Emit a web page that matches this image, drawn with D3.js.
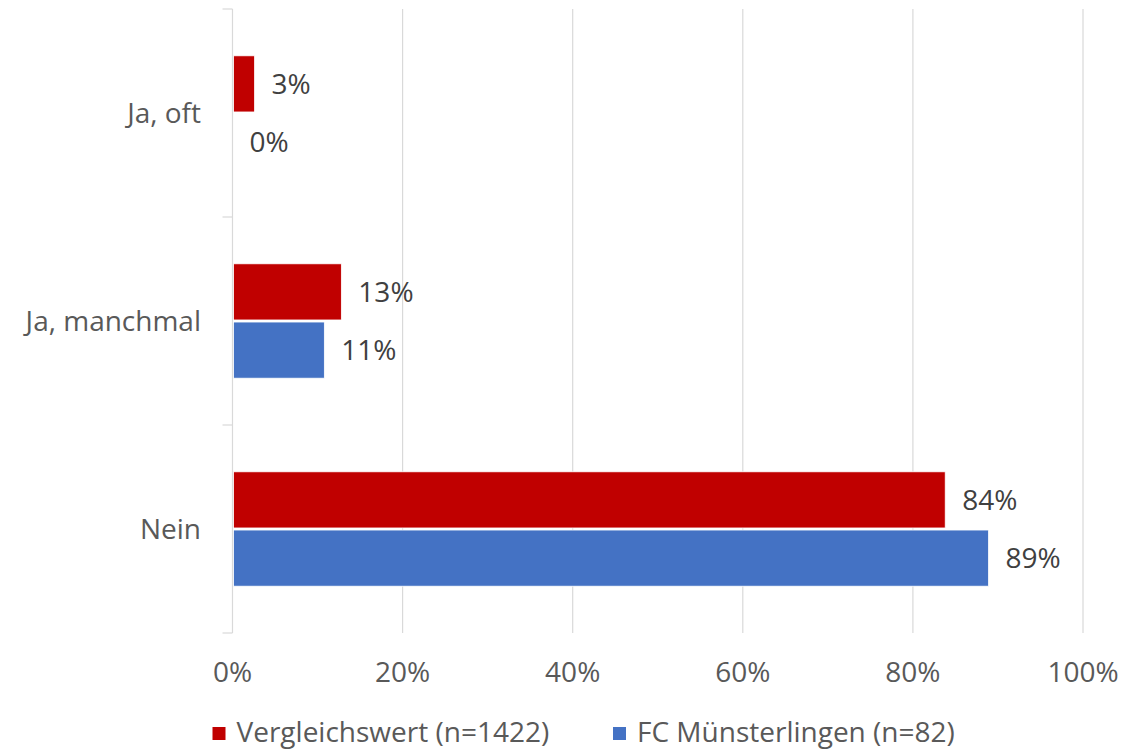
<!DOCTYPE html>
<html>
<head>
<meta charset="utf-8">
<script src="https://cdn.jsdelivr.net/npm/d3@7"></script>
<style>
  body { margin: 0; background: #fff; }
  svg text { font-family: "Open Sans", Lato, sans-serif; }
</style>
</head>
<body>
<svg id="chart"></svg>
<script>
// data
var categories = ["Ja, oft", "Ja, manchmal", "Nein"];
var seriesNames = ["Vergleichswert (n=1422)", "FC Münsterlingen (n=82)"];
var vergleich = [2.6, 12.8, 83.8];
var muensterlingen = [0, 10.8, 88.9];
var valueLabels = [["3%", "13%", "84%"], ["0%", "11%", "89%"]];
var xTicks = [0, 20, 40, 60, 80, 100];
var colors = ["#C00000", "#4472C4"];

var width = 1145;
var height = 751;
var fontSize = 28;

var svg = d3.select("#chart")
    .attr("width", width)
    .attr("height", height);

var plotLeft = 232.5, plotRight = 1083, plotTop = 9, plotBottom = 633;

var xScale = d3.scaleLinear()
    .domain([0, 100])
    .range([plotLeft, plotRight]);

var yScale = d3.scaleBand()
    .domain(categories)
    .range([plotTop, plotBottom])
    .paddingInner(0.45)
    .paddingOuter(0.225);

var inner = d3.scaleBand()
    .domain([0, 1])
    .range([0, yScale.bandwidth()])
    .paddingInner(0.035);

// gridlines
svg.append("g")
    .selectAll("line")
    .data(xTicks.slice(1))
    .enter()
    .append("line")
    .attr("x1", function(d){ return xScale(d); })
    .attr("x2", function(d){ return xScale(d); })
    .attr("y1", plotTop)
    .attr("y2", plotBottom)
    .attr("stroke", "#d9d9d9")
    .attr("stroke-width", 1.2);

// category axis (left) with tick marks between categories
var yAxis = svg.append("g");
yAxis.append("line")
    .attr("x1", plotLeft).attr("x2", plotLeft)
    .attr("y1", plotTop).attr("y2", plotBottom)
    .attr("stroke", "#d9d9d9")
    .attr("stroke-width", 1.2);

var boundaries = d3.range(categories.length + 1).map(function(i){
    return plotTop + i * (plotBottom - plotTop) / categories.length;
});
yAxis.selectAll(".tk")
    .data(boundaries)
    .enter()
    .append("line")
    .attr("x1", plotLeft - 10).attr("x2", plotLeft)
    .attr("y1", function(d){ return d; })
    .attr("y2", function(d){ return d; })
    .attr("stroke", "#d9d9d9")
    .attr("stroke-width", 1.2);

yAxis.selectAll("text")
    .data(categories)
    .enter()
    .append("text")
    .attr("x", 201)
    .attr("y", function(d){ return yScale(d) + yScale.bandwidth() / 2; })
    .attr("dy", "0.35em")
    .attr("text-anchor", "end")
    .attr("font-size", fontSize)
    .attr("fill", "#595959")
    .text(function(d){ return d; });

// x tick labels
svg.append("g")
    .selectAll("text")
    .data(xTicks)
    .enter()
    .append("text")
    .attr("x", function(d){ return xScale(d); })
    .attr("y", 672)
    .attr("dy", "0.35em")
    .attr("text-anchor", "middle")
    .attr("font-size", fontSize)
    .attr("fill", "#595959")
    .text(function(d){ return d + "%"; });

// bars
var series = [vergleich, muensterlingen];
series.forEach(function(values, s){
    var g = svg.append("g");
    g.selectAll("rect")
        .data(values)
        .enter()
        .append("rect")
        .attr("x", xScale(0) + 1)
        .attr("y", function(d, i){ return yScale(categories[i]) + inner(s); })
        .attr("width", function(d){ return Math.max(0, xScale(d) - xScale(0) - 1); })
        .attr("height", inner.bandwidth())
        .attr("fill", colors[s])
        .attr("stroke", "#fff")
        .attr("stroke-width", 0.8);

    g.selectAll("text")
        .data(values)
        .enter()
        .append("text")
        .attr("x", function(d){ return xScale(d) + 17; })
        .attr("y", function(d, i){ return yScale(categories[i]) + inner(s) + inner.bandwidth() / 2; })
        .attr("dy", "0.35em")
        .attr("font-size", fontSize)
        .attr("fill", "#404040")
        .text(function(d, i){ return valueLabels[s][i]; });
});

// legend
var legendX = [212.5, 613];
var legend = svg.append("g")
    .selectAll("g")
    .data(seriesNames)
    .enter()
    .append("g")
    .attr("transform", function(d, i){ return "translate(" + legendX[i] + ",727)"; });

legend.append("rect")
    .attr("width", 13)
    .attr("height", 13)
    .attr("fill", function(d, i){ return colors[i]; });

legend.append("text")
    .attr("x", 24)
    .attr("y", 5)
    .attr("dy", "0.35em")
    .attr("font-size", fontSize)
    .attr("fill", "#595959")
    .text(function(d){ return d; });
</script>
</body>
</html>
